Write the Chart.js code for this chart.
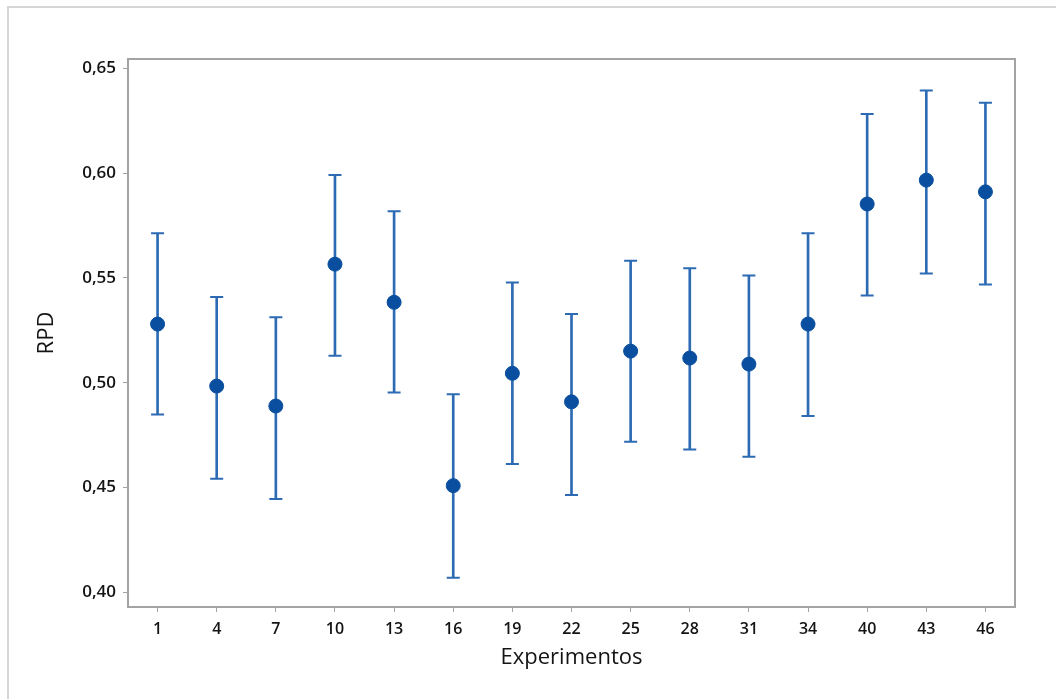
<!DOCTYPE html>
<html>
<head>
<meta charset="utf-8">
<script src="https://cdn.jsdelivr.net/npm/chart.js@4.4.1/dist/chart.umd.min.js"></script>
<style>
  html, body { margin: 0; padding: 0; background: #ffffff; overflow: hidden; }
  #frame { position: absolute; left: 7px; top: 6px; width: 1200px; height: 900px; border: 2px solid #d6d6d6; box-sizing: border-box; }
  #wrap { position: absolute; left: 0; top: 0; width: 1056px; height: 699px; }
</style>
</head>
<body>
<div id="frame"></div>
<div id="wrap"><canvas id="c" width="1056" height="699"></canvas></div>
<script>
// ---- data ----
const categories = ["1", "4", "7", "10", "13", "16", "19", "22", "25", "28", "31", "34", "40", "43", "46"];
const means = [0.528, 0.4984, 0.4889, 0.5566, 0.5384, 0.4509, 0.5045, 0.4909, 0.5151, 0.5118, 0.5089, 0.528, 0.5853, 0.5967, 0.5911];
const lows  = [0.4849, 0.4542, 0.4445, 0.5129, 0.4954, 0.4070, 0.4612, 0.4464, 0.4719, 0.4682, 0.4647, 0.4841, 0.5417, 0.5522, 0.5469];
const highs = [0.5714, 0.5409, 0.5313, 0.5992, 0.5818, 0.4945, 0.5479, 0.5328, 0.5582, 0.5547, 0.5512, 0.5714, 0.6282, 0.6395, 0.6336];
const yTicks = [0.40, 0.45, 0.50, 0.55, 0.60, 0.65];

const markerColor = '#0a4f9f';
const barColor = '#2c6bb4';
const axisGray = '#a3a3a3';
const textColor = '#141414';
const fontFamily = '"Open Sans", "Noto Sans", sans-serif';

const frameBox = {
  id: 'frameBox',
  afterDatasetsDraw(chart) {
    const {ctx, chartArea: a} = chart;
    ctx.save();
    ctx.strokeStyle = axisGray;
    ctx.lineWidth = 2;
    ctx.strokeRect(a.left, a.top, a.right - a.left, a.bottom - a.top);
    ctx.restore();
  }
};

new Chart(document.getElementById('c'), {
  type: 'bar',
  data: {
    labels: categories,
    datasets: [
      {
        type: 'bar',
        data: lows.map((l, i) => [l, highs[i]]),
        backgroundColor: barColor,
        borderWidth: 0,
        barThickness: 2,
        order: 3
      },
      {
        type: 'line',
        data: lows,
        showLine: false,
        pointStyle: 'line',
        pointRadius: 6.5,
        pointBorderWidth: 2,
        pointBorderColor: barColor,
        pointBackgroundColor: barColor,
        order: 2
      },
      {
        type: 'line',
        data: highs,
        showLine: false,
        pointStyle: 'line',
        pointRadius: 6.5,
        pointBorderWidth: 2,
        pointBorderColor: barColor,
        pointBackgroundColor: barColor,
        order: 2
      },
      {
        type: 'line',
        data: means,
        showLine: false,
        pointStyle: 'circle',
        pointRadius: 7,
        pointBorderWidth: 1,
        pointBorderColor: markerColor,
        pointBackgroundColor: markerColor,
        order: 1
      }
    ]
  },
  options: {
    responsive: false,
    animation: false,
    events: [],
    layout: { padding: { left: 0, right: 41, top: 59, bottom: 0 } },
    plugins: { legend: { display: false }, tooltip: { enabled: false } },
    scales: {
      x: {
        type: 'category',
        offset: true,
        grid: { display: true, offset: false, drawOnChartArea: false, drawTicks: true, tickLength: 5, color: axisGray, lineWidth: 1 },
        border: { display: true, color: axisGray, width: 2 },
        ticks: { color: textColor, padding: 8, maxRotation: 0, autoSkip: false, font: { family: fontFamily, size: 16, weight: '600' } },
        title: { display: true, text: 'Experimentos', color: textColor, padding: { top: 0, bottom: 28 }, font: { family: fontFamily, size: 22, weight: '500' } },
        afterFit(scale) { scale.height = 92; }
      },
      y: {
        type: 'linear',
        min: 0.393,
        max: 0.6545,
        grid: { display: true, drawOnChartArea: false, drawTicks: true, tickLength: 5, color: axisGray, lineWidth: 1 },
        border: { display: true, color: axisGray, width: 2 },
        ticks: {
          color: textColor,
          padding: 7,
          font: { family: fontFamily, size: 17, weight: '600' },
          callback: (v) => Number(v).toFixed(2).replace('.', ',')
        },
        afterBuildTicks(scale) { scale.ticks = yTicks.map(v => ({ value: v })); },
        title: { display: true, text: 'RPD', color: textColor, padding: { top: 34, bottom: 0 }, font: { family: fontFamily, size: 22, weight: '500' } },
        afterFit(scale) { scale.width = 128; }
      }
    }
  },
  plugins: [frameBox]
});
</script>
</body>
</html>
